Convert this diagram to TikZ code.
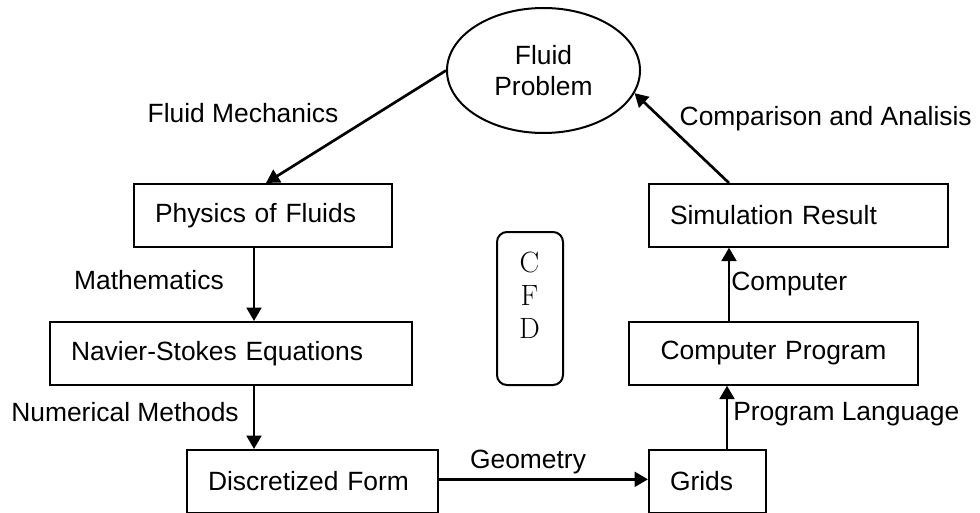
\documentclass[tikz,border=0pt]{standalone}
\usepackage{fontspec}
\setsansfont{Liberation Sans}
\usetikzlibrary{arrows.meta,shapes.geometric}

\tikzset{
    stage/.style={draw, line width=1.5pt, anchor=north west, align=left,
        inner xsep=15.75pt, minimum height=47pt},
    flow/.style={line width=2pt, -{Triangle[length=10pt,width=11pt]}},
    tag/.style={inner sep=0pt}
}

\begin{document}
\begin{tikzpicture}[x=0.75pt, y=-0.75pt,
        font=\fontsize{19.8}{23}\selectfont\sffamily]
       \useasboundingbox (0,0) rectangle (980,513);

       % 1. The problem and the chain of stages
       \node[ellipse, draw, line width=1.5pt, inner sep=0pt,
             minimum width=144.75pt, minimum height=93.75pt, align=center]
             (prob) at (543.5,70.5) {Fluid\\Problem};
       \node[stage, text width=162pt]    (phys) at (133,183) {Physics of Fluids};
       \node[stage, text width=240pt]    (nav)  at (49,321)  {Navier-Stokes Equations};
       \node[stage, text width=156.75pt] (disc) at (186,449) {Discretized Form};
       \node[stage, text width=56.25pt]  (grid) at (648,449) {Grids};
       \node[stage, text width=185.25pt, align=center] (comp) at (628,321) {Computer Program};
       \node[stage, text width=192.75pt] (sim)  at (648,183) {Simulation Result};

       % 2. The CFD box in the middle
       \node[draw, line width=1.5pt, rounded corners=7.5pt,
             minimum width=49.5pt, minimum height=114.75pt] (cfd) at (530,308.5) {};
       \node[align=center, font=\fontsize{22}{24.75}\selectfont\rmfamily]
             (cfdtxt) at (529.5,295.5) {C\\F\\D};

       % 3. Connectors
       \draw[flow] (prob.west) -- ([shift={(3,0)}]phys.north);
       \draw[flow] ([shift={(-9,0)}]phys.south) -- ([shift={(-9,0)}]phys.south |- nav.north);
       \draw[flow] ([shift={(23,0)}]nav.south) -- ([shift={(23,0)}]nav.south |- disc.north);
       \draw[flow] ([shift={(0,-2)}]disc.east) -- ([shift={(0,-2)}]grid.west);
       \draw[flow] ([shift={(19.5,0)}]grid.north) -- ([shift={(19.5,0)}]grid.north |- comp.south);
       \draw[flow] ([shift={(-44.5,0)}]comp.north) -- ([shift={(-44.5,0)}]comp.north |- sim.south);
       \draw[flow] ([shift={(-69.5,0)}]sim.north) -- (prob.-14);

       % 4. Labels of the steps
       \node[tag] (mech) at (243,113)                 {Fluid Mechanics};
       \node[tag, anchor=east] (math) at (224,280)    {Mathematics};
       \node[tag, anchor=east] (num)  at (239,412)    {Numerical Methods};
       \node[tag] (geo)  at (528,462.5)               {Geometry};
       \node[tag, anchor=west] (lang) at (733,414)    {Program Language};
       \node[tag, anchor=west] (cpu)  at (731,284)    {Computer};
       \node[tag, anchor=east] (cmp)  at (972,119)    {Comparison and Analisis};

    \end{tikzpicture}
\end{document}
